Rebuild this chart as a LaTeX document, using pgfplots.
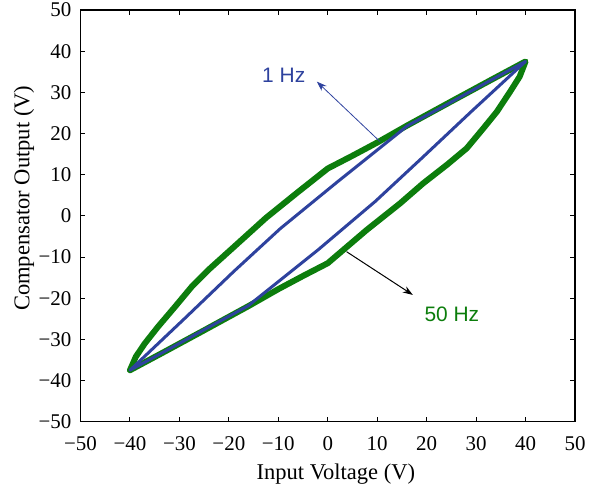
\documentclass[border=0pt]{standalone}
\usepackage{fontspec}
\setmainfont{Liberation Serif}
\newfontfamily\annfont{Liberation Sans}
\usepackage{pgfplots}
\pgfplotsset{compat=1.18}
\usetikzlibrary{arrows.meta}

\definecolor{loopblue}{RGB}{46,66,158}
\definecolor{loopgreen}{RGB}{12,125,12}

\begin{document}
\begin{tikzpicture}
\begin{axis}[
  scale only axis,
  width=494.5bp, height=411.7bp,
  xmin=-50, xmax=50, ymin=-50, ymax=50,
  xtick={-50,-40,...,50}, ytick={-50,-40,...,50},
  xticklabels={−50,−40,−30,−20,−10,0,10,20,30,40,50},
  yticklabels={−50,−40,−30,−20,−10,0,10,20,30,40,50},
  tick align=inside, major tick length=5bp,
  tick style={black, line width=0.9bp},
  axis line style={black, line width=1.2bp},
  xticklabel style={font=\fontsize{21}{24}\selectfont, anchor=north, inner sep=0pt, yshift=-15bp},
  yticklabel style={font=\fontsize{21}{24}\selectfont, anchor=east, inner sep=0pt, xshift=-9bp},
  xlabel={Input Voltage (V)},
  ylabel={Compensator Output (V)},
  label style={font=\fontsize{22.6}{26}\selectfont, inner sep=0pt},
  xlabel style={at={(axis description cs:0.5163,-0.1416)}, anchor=base},
  ylabel style={at={(axis description cs:-0.1035,0.5426)}, anchor=base},
  clip=false,
]

% 50 Hz loop (thick green)
\addplot[loopgreen, line width=6bp, line join=round, line cap=round] coordinates {
  (-40,-37.5) (-38.8,-34.2) (-37,-31) (-34.3,-26.9) (-30.9,-22.1)
  (-27.5,-17.2) (-24.2,-13.2) (-19.4,-8.0) (-12.5,-0.5) (-6,5.8)
  (0,11.5) (5,14.6) (10,17.8) (16,21.9) (25,27.8) (33,33) (40,37.5)
  (38.8,33.8) (36.9,30.2) (34.2,25.3) (31.5,21.3) (28.1,16.4)
  (24.1,12.4) (19.3,7.9) (14.6,3.0) (7.9,-3.4) (0,-11.5) (-5,-14.6)
  (-10,-17.8) (-16,-21.9) (-25,-27.8) (-33,-33) (-40,-37.5)
};

% 1 Hz loop (blue)
\addplot[loopblue, line width=3bp, line join=round, line cap=round] coordinates {
  (-40,-37.5) (-29,-25) (-19,-13.5) (-9.6,-3.1) (2,8.3) (14.6,20.4)
  (16,21.8) (24,27) (32,32.3) (40,37.5)
  (29,25.3) (19,14.0) (9.6,3.5) (-2,-8.3) (-14.6,-20.4) (-16,-21.8)
  (-24,-27) (-32,-32.3) (-40,-37.5)
};

% annotations
\draw[loopblue, line width=0.8bp, -{Stealth[length=10bp, width=7bp]}]
  (axis cs:10.6,18.0) -- (axis cs:-2.2,32.6);
\node[loopblue, font=\annfont\fontsize{21}{24}\selectfont, inner sep=0pt]
  at (axis cs:-8.9,34.2) {1 Hz};
\draw[black, line width=1bp, -{Stealth[length=10bp, width=7bp]}]
  (axis cs:3.8,-8.7) -- (axis cs:17.2,-19.2);
\node[loopgreen, font=\annfont\fontsize{21}{24}\selectfont, inner sep=0pt]
  at (axis cs:25.1,-24.0) {50 Hz};
\end{axis}
\pgfresetboundingbox
\path[use as bounding box] (-80.5bp,-67.3bp) rectangle (511.5bp,421.7bp);
\end{tikzpicture}
\end{document}
